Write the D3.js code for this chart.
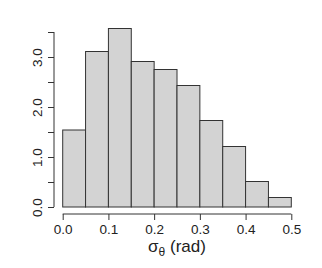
<!DOCTYPE html>
<meta charset="utf-8">
<style>
body { margin: 0; background: #fff; }
svg { font-family: "Liberation Sans", Arial, sans-serif; }
.axis path, .axis line { stroke: #333; }
.axis text { fill: #222; font-size: 13.5px; }
</style>
<body>
<div id="chart"></div>
<script src="https://cdn.jsdelivr.net/npm/d3@7"></script>
<script>
var breaks = [0, 0.05, 0.1, 0.15, 0.2, 0.25, 0.3, 0.35, 0.4, 0.45, 0.5];
var density = [1.54, 3.11, 3.57, 2.91, 2.75, 2.43, 1.73, 1.21, 0.51, 0.19];
var xTicks = [0, 0.1, 0.2, 0.3, 0.4, 0.5];
var yTicks = [0, 0.5, 1, 1.5, 2, 2.5, 3, 3.5];
var yLabels = {0: "0.0", 1: "1.0", 2: "2.0", 3: "3.0"};

var width = 322, height = 268;

var x = d3.scaleLinear().domain([0, 0.5]).range([62.7, 291.3]);
var y = d3.scaleLinear().domain([0, 3.5]).range([207, 32]);

var svg = d3.select("#chart").append("svg")
    .attr("width", width)
    .attr("height", height);

var bins = density.map(function(d, i) { return {x0: breaks[i], x1: breaks[i + 1], v: d}; });

svg.selectAll("rect.bar")
    .data(bins)
  .enter().append("rect")
    .attr("class", "bar")
    .attr("x", function(d) { return x(d.x0); })
    .attr("y", function(d) { return y(d.v); })
    .attr("width", function(d) { return x(d.x1) - x(d.x0); })
    .attr("height", function(d) { return y(0) - y(d.v); })
    .style("fill", "#d3d3d3")
    .style("stroke", "#333")
    .style("stroke-width", 1);

// x axis
var xAxis = d3.axisBottom(x)
    .tickValues(xTicks)
    .tickSize(6)
    .tickPadding(4)
    .tickFormat(d3.format(".1f"));

svg.append("g")
    .attr("class", "axis")
    .attr("transform", "translate(0,214)")
    .call(xAxis)
    .call(function(g) { g.select(".domain").attr("d", "M" + x(0) + ",0H" + x(0.5)); });

// y axis
var yAxis = d3.axisLeft(y)
    .tickValues(yTicks)
    .tickSize(6)
    .tickPadding(4)
    .tickFormat(function(d) { return yLabels[d] || ""; });

var gy = svg.append("g")
    .attr("class", "axis")
    .attr("transform", "translate(54,0)")
    .call(yAxis)
    .call(function(g) { g.select(".domain").attr("d", "M0," + y(0) + "V" + y(3.5)); });

gy.selectAll(".tick text")
    .attr("transform", "rotate(-90)")
    .attr("x", 0)
    .attr("y", -12)
    .attr("dy", "0")
    .style("text-anchor", "middle");

// x label
var lab = svg.append("text")
    .attr("x", x(0.25))
    .attr("y", 252)
    .attr("text-anchor", "middle")
    .style("font-size", "17px")
    .style("fill", "#222");
lab.append("tspan").text("σ");
lab.append("tspan").attr("dy", 4).style("font-size", "12px").text("θ");
lab.append("tspan").attr("dy", -4).text(" (rad)");
</script>
</body>
</html>
